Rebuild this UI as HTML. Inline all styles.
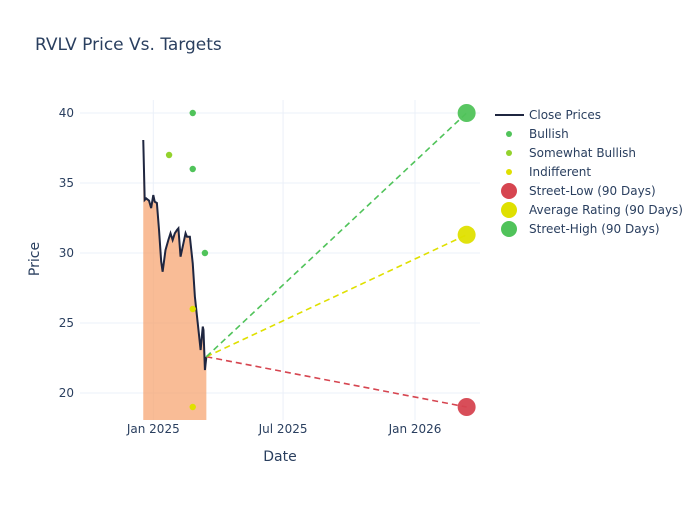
<!DOCTYPE html>
<html><head><meta charset="utf-8"><style>
body{margin:0;background:#fff;font-family:"Liberation Sans","DejaVu Sans",sans-serif}
svg text{font-family:"DejaVu Sans","Liberation Sans",sans-serif;fill:#2a3f5f}
</style></head><body>
<svg id="chart" width="700" height="500" xmlns="http://www.w3.org/2000/svg">
<rect width="700" height="500" fill="#fff"/>
<text x="35" y="50" font-size="17">RVLV Price Vs. Targets</text>
<g id="grid"></g>
<g id="plot"></g>
<text x="280" y="461" font-size="14" text-anchor="middle">Date</text>
<text transform="translate(39,259) rotate(-90)" font-size="14" text-anchor="middle">Price</text>
<g id="legend"></g>
</svg>
<script>
// days since 2025-01-01
const priceDays=[-14,-12,-10,-6,-3,0,2,5,8,11,13,17,21,24,27,30,33,35,38,42,45,47,51,55,58,60,63,66,69,70,72,74];
const priceVals=[38.07,33.79,33.9,33.74,33.21,34.14,33.66,33.57,31.64,29.38,28.66,30.21,30.93,31.41,30.93,31.41,31.64,31.76,29.74,30.69,31.41,31.16,31.16,29.26,26.88,25.93,24.5,23.07,24.74,24.5,21.64,22.59];
const bullishDays=[55,55,72];const bullishVals=[40,36,30];
const someBullDays=[22];const someBullVals=[37];
const indiffDays=[55,55];const indiffVals=[26,19];
const targetDay=437;
const targetNames=["Street-Low (90 Days)","Average Rating (90 Days)","Street-High (90 Days)"];
const targetVals=[19,31.3,40];
const yTicks=[20,25,30,35,40];
const xTickDays=[0,181,365];const xTickLabels=["Jan 2025","Jul 2025","Jan 2026"];

const X0=80,X1=480,Y0=100,Y1=420;
const x=d=>153.3+d*0.717;
const y=v=>393-(v-20)*14;
const NS="http://www.w3.org/2000/svg";
function mk(tag,attrs,parent){const e=document.createElementNS(NS,tag);for(const k in attrs)e.setAttribute(k,attrs[k]);parent.appendChild(e);return e;}
const grid=document.getElementById('grid'),plot=document.getElementById('plot'),leg=document.getElementById('legend');
yTicks.forEach(t=>{
 const l=mk('line',{x1:X0,x2:X1,y1:y(t),y2:y(t),stroke:'#ebf0f8','stroke-width':1},grid);
 
 
 const tx=mk('text',{x:74,y:y(t)+4,'font-size':12,'text-anchor':'end'},grid);tx.textContent=t;
 
 
});
xTickDays.forEach((d,i)=>{
 const l=mk('line',{x1:x(d),x2:x(d),y1:Y0,y2:Y1,stroke:'#ebf0f8','stroke-width':1},grid);
 
 
 const tx=mk('text',{x:x(d),y:433,'font-size':12,'text-anchor':'middle'},grid);tx.textContent=xTickLabels[i];
 
 
});
let pts=priceDays.map((d,i)=>x(d)+','+y(priceVals[i]));
const area=mk('polygon',{points:x(priceDays[0])+','+Y1+' '+pts.join(' ')+' '+x(priceDays[priceDays.length-1])+','+Y1,fill:'#f7a673','fill-opacity':0.75},plot);


const line=mk('polyline',{points:pts.join(' '),fill:'none',stroke:'#1f2640','stroke-width':2},plot);


const lastD=priceDays[priceDays.length-1],lastV=priceVals[priceVals.length-1];
const tColors=['#d64550','#dfe000','#50c35a'];
const tNames=['street-low','average-rating','street-high'];
targetVals.forEach((v,i)=>{
 const l=mk('line',{x1:x(lastD),y1:y(lastV),x2:x(targetDay),y2:y(v),stroke:tColors[i],'stroke-width':1.6,'stroke-dasharray':'6,4'},plot);
 
 
 const c=mk('circle',{cx:x(targetDay),cy:y(v),r:9,fill:tColors[i],'fill-opacity':0.95},plot);
 
 
});
function dots(days,vals,col,name){days.forEach((d,i)=>{const c=mk('circle',{cx:x(d),cy:y(vals[i]),r:3.2,fill:col},plot);
 
 });}
dots(bullishDays,bullishVals,'#50c35a','bullish-point');
dots(someBullDays,someBullVals,'#93d22d','somewhat-bullish-point');
dots(indiffDays,indiffVals,'#dfe000','indifferent-point');
const legItems=[['Close Prices','line','#1f2640'],['Bullish','s','#50c35a'],['Somewhat Bullish','s','#93d22d'],['Indifferent','s','#dfe000'],['Street-Low (90 Days)','b','#d64550'],['Average Rating (90 Days)','b','#dfe000'],['Street-High (90 Days)','b','#50c35a']];
legItems.forEach((it,i)=>{
 const cy=115+i*19;
 const g=mk('g',{},leg);
 
 
 if(it[1]=='line')mk('line',{x1:495,x2:524,y1:cy,y2:cy,stroke:it[2],'stroke-width':2},g);
 else mk('circle',{cx:509,cy:cy,r:it[1]=='s'?3:8,fill:it[2]},g);
 const t=mk('text',{x:529,y:cy+4,'font-size':12},g);t.textContent=it[0];
});
</script>
</body></html>
